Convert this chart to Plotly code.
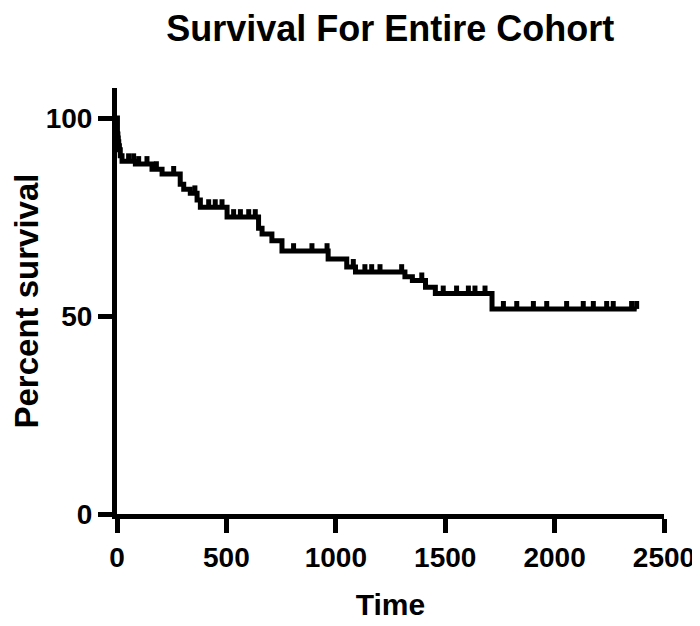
# Kaplan-Meier style survival curve for the whole cohort
import numpy as np
import plotly.graph_objects as go

FIG_TITLE = 'Survival For Entire Cohort'
FONT = 'Liberation Sans, Arial, sans-serif'

# step times (days) and percent surviving from that time on
step_time = [0, 2, 4, 6, 8, 11, 15, 23, 84, 160, 206, 289, 305, 335, 366, 381,
             503, 647, 663, 708, 754, 965, 1050, 1090, 1316, 1350, 1410, 1455,
             1714, 2375]
step_surv = [100, 96, 95, 94, 93, 92, 90.5, 89.1, 88.4, 87.1, 85.9, 83.3, 82,
             81, 79.3, 77.5, 75, 72.2, 70.7, 69, 66.4, 64.4, 62.4, 61.1, 59.9,
             59, 57.3, 55.7, 51.8, 51.8]

# censored observations (days)
censor_time = [53, 76, 99, 137, 180, 259, 356, 419, 449, 480, 533, 564, 602,
               632, 807, 891, 960, 1080, 1133, 1164, 1202, 1301, 1393, 1491,
               1552, 1606, 1636, 1682, 1766, 1827, 1903, 1964, 2055, 2131,
               2177, 2238, 2268, 2352, 2375]

idx = np.searchsorted(step_time, censor_time, side='right') - 1
censor_surv = [step_surv[i] for i in idx]

fig = go.Figure()
fig.add_trace(go.Scatter(
    x=step_time, y=step_surv, mode='lines', line_shape='hv',
    line=dict(color='black', width=5), showlegend=False, hoverinfo='skip'))
fig.add_trace(go.Scatter(
    x=censor_time, y=censor_surv, mode='markers',
    marker=dict(size=1, color='black'), showlegend=False,
    error_y=dict(type='data', symmetric=False, array=[2.0] * len(censor_time),
                 arrayminus=[0] * len(censor_time), thickness=5, width=0,
                 color='black')))

axis_common = dict(
    showline=True, linewidth=5, linecolor='black', showgrid=False,
    zeroline=False, ticks='outside', ticklen=14, tickwidth=5,
    tickcolor='black', automargin=False, ticklabeloverflow='allow',
    tickfont=dict(family=FONT, size=28, color='black', weight='bold'))

# the page body adds an 8px offset, so margins are shifted to compensate
fig.update_layout(
    width=700, height=626,
    paper_bgcolor='white', plot_bgcolor='white',
    margin=dict(l=109, r=44, t=80, b=120),
    title=dict(text=FIG_TITLE, x=0.546, xanchor='center', y=0.968,
               yanchor='middle',
               font=dict(family=FONT, size=36, color='black',
                         weight='bold')),
    xaxis=dict(range=[0, 2500], tickvals=[0, 500, 1000, 1500, 2000, 2500],
               title=dict(text='Time', standoff=24,
                          font=dict(family=FONT, size=30, color='black',
                                    weight='bold')),
               **axis_common),
    yaxis=dict(range=[0, 107.6], tickvals=[0, 50, 100],
               title=dict(text='Percent survival', standoff=15,
                          font=dict(family=FONT, size=33, color='black',
                                    weight='bold')),
               **axis_common),
)

fig.write_html('out.html')
